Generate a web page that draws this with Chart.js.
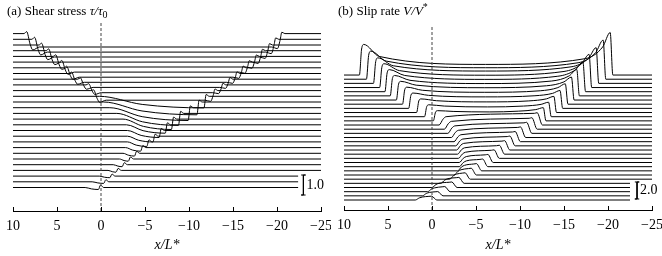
<!DOCTYPE html>
<html>
<head>
<meta charset="utf-8">
<script src="https://cdn.jsdelivr.net/npm/chart.js@4.4.1/dist/chart.umd.min.js"></script>
<style>
  html, body { margin: 0; padding: 0; background: #fff; }
  .wrap { position: relative; width: 662px; height: 256px; }
  .panel { position: absolute; top: 0; width: 331px; height: 256px; }
  #panelA { left: 0; }
  #panelB { left: 331px; }
</style>
</head>
<body>
<div class="wrap">
  <div class="panel" id="panelA"><canvas id="stressChart"></canvas></div>
  <div class="panel" id="panelB"><canvas id="slipChart"></canvas></div>
</div>
<script>
// Waterfall plots of a nucleating rupture: one profile per snapshot, bottom (early) to top (late)

const serif = "'Liberation Serif', 'DejaVu Serif', serif";
const xTicks = [10, 5, 0, -5, -10, -15, -20, -25];

// (a) shear stress tau/tau0, 28 snapshots
const tauLeftFront  = [1.8, 1.0, 0.2, -0.8, -1.4, -2.1, -2.5, -2.8, -3.0, -3.0, -3.0, -2.9, -2.5, -1.8,
                       -1.0, -0.3, 0.2, 0.7, 1.25, 2.2, 3.2, 3.75, 4.3, 5.0, 5.8, 6.6, 7.4, 8.3];
const tauRightFront = [0.0, -0.6, -1.3, -2.0, -2.7, -3.4, -4.1, -4.8, -5.5, -6.2, -6.9, -7.6, -8.3, -9.1,
                       -10.2, -11.2, -12.0, -13.0, -13.9, -14.7, -15.5, -16.2, -16.9, -17.7, -18.4, -19.2, -19.9, -20.6];
const tauDrop       = [0.1, 0.08, 0.08, 0.09, 0.1, 0.11, 0.14, 0.18, 0.23, 0.29, 0.35, 0.42, 0.52, 0.6,
                       0.64, 0.64, 0.58, 0.48, 0.39, 0.41, 0.44, 0.47, 0.5, 0.53, 0.57, 0.6, 0.64, 0.67];
const tauPeakLeft   = [0, 0, 0, 0, 0, 0, 0, 0, 0, 0, 0, 0, 0, 0,
                       0, 0, 0, 0.04, 0.06, 0.07, 0.07, 0.08, 0.08, 0.08, 0.09, 0.09, 0.1, 0.1];
const tauPeakRight  = [0.12, 0.1, 0.1, 0.1, 0.1, 0.1, 0.1, 0.1, 0.1, 0.1, 0.1, 0.1, 0.1, 0.1,
                       0.09, 0.09, 0.09, 0.08, 0.08, 0.08, 0.08, 0.08, 0.07, 0.07, 0.07, 0.07, 0.07, 0.07];
const TAU_STEP = 0.285;   // offset between snapshots
const TAU_BAR = 1.0;

// (b) slip rate V/V*, 31 snapshots
const slipLeftFront  = [1.7, 0.9, 0.3, -0.2, -1.2, -2.2, -2.7, -3.1, -3.3, -3.3, -3.2, -3.1, -3.0, -2.9, -2.7, -2.4,
                        -2.0, -1.6, -1.0, -0.2, 0.8, 1.7, 2.6, 3.3, 4.0, 4.7, 5.3, 5.9, 6.6, 7.4, 8.2];
const slipRightFront = [-0.1, -0.8, -1.6, -2.4, -3.2, -3.9, -4.6, -5.2, -5.9, -6.5, -7.2, -7.8, -8.4, -9.0, -9.6, -10.2,
                        -10.9, -11.5, -12.1, -12.8, -13.4, -14.0, -14.7, -15.3, -16.0, -16.6, -17.3, -18.0, -18.8, -19.6, -20.4];
const slipInner      = [0.35, 0.4, 0.45, 0.5, 0.55, 0.6, 0.62, 0.65, 0.68, 0.7, 0.72, 0.75, 0.78, 0.8, 0.82, 0.85,
                        0.88, 0.92, 0.98, 1.05, 1.15, 1.25, 1.35, 1.4, 1.45, 1.45, 1.45, 1.45, 1.45, 1.35, 1.25];
const slipPeakLeft   = [0, 0, 0, 0, 0, 0, 0, 0, 0, 0, 0, 0, 0, 0, 0, 0,
                        0, 0, 0, 1.2, 1.4, 1.6, 1.8, 2.0, 2.2, 2.4, 2.6, 2.8, 3.0, 3.3, 3.6];
const slipPeakRight  = [0.45, 0.5, 0.6, 0.65, 0.7, 0.75, 0.8, 0.85, 0.9, 0.95, 1.0, 1.05, 1.1, 1.15, 1.2, 1.25,
                        1.3, 1.35, 1.45, 1.55, 1.7, 1.9, 2.1, 2.4, 2.7, 3.1, 3.5, 3.9, 4.2, 4.6, 5.0];
const SLIP_STEP = 0.49;
const SLIP_BAR = 2.0;

function fmt(v) {
    return v < 0 ? '\u2212' + Math.abs(v) : String(v);
}

function tauProfile(k) {
    const L = tauLeftFront[k], R = tauRightFront[k], d = tauDrop[k];
    const pl = tauPeakLeft[k], pr = tauPeakRight[k];
    const end = k < 3 ? -22.4 : -25;
    let pts;
    if (pl > 0) {
        // hook at the left front (small overshoot below the inner level), cusp at the right front
        pts = [[10, 0], [L + 0.45, 0], [L + 0.15, pl], [L - 0.25, -0.8 * d], [L - 0.55, -1.22 * d], [L - 1.3, -d],
               [R + 1.2, -d], [R + 0.55, -1.12 * d], [R + 0.25, -0.5 * d], [R + 0.05, pr], [R - 0.3, 0], [end, 0]];
    } else {
        const w = L - R;
        pts = [[10, 0], [L, 0], [L - 0.4 * w, -0.7 * d], [R + 0.3, -d], [R + 0.05, pr], [R - 0.3, 0], [end, 0]];
    }
    return pts.map(([x, y]) => ({ x, y: k * TAU_STEP + y }));
}

function slipProfile(k) {
    const L = slipLeftFront[k], R = slipRightFront[k], v = slipInner[k];
    const pl = slipPeakLeft[k], pr = slipPeakRight[k];
    const end = k < 5 ? -22.5 : -25;
    let pts;
    if (pl > 0) {
        const mid = (L + R) / 2;
        pts = [[10, 0], [L + 0.05, 0], [L - 0.2, 0.85 * pl], [L - 0.45, pl], [L - 2.2, v + 0.4 * (pl - v)],
               [mid, v], [R + 3, v + 0.18 * (pr - v)], [R + 1, v + 0.55 * (pr - v)], [R + 0.15, pr], [R - 0.15, 0], [end, 0]];
    } else {
        pts = [[10, 0], [L + 0.2, 0], [L - 0.25, 0.7 * v], [L - 0.6, v],
               [R + 0.45, 0.95 * pr], [R + 0.15, pr], [R - 0.45, 0], [end, 0]];
    }
    return pts.map(([x, y]) => ({ x, y: k * SLIP_STEP + y }));
}

function profileSet(data) {
    return { data, borderColor: '#000', borderWidth: 1, cubicInterpolationMode: 'monotone', pointRadius: 0 };
}

function scaleBar(x, y0, len) {
    return {
        data: [{ x: x + 0.25, y: y0 + len }, { x: x - 0.25, y: y0 + len }, { x: x, y: y0 + len },
               { x: x, y: y0 }, { x: x + 0.25, y: y0 }, { x: x - 0.25, y: y0 }],
        borderColor: '#000', borderWidth: 1, tension: 0, pointRadius: 0
    };
}

function zeroLine(y0, y1) {
    return {
        data: [{ x: 0, y: y0 }, { x: 0, y: y1 }],
        borderColor: '#444', borderWidth: 1, borderDash: [3, 2], tension: 0, pointRadius: 0
    };
}

function drawRuns(ctx, runs, x, y) {
    ctx.fillStyle = '#000';
    ctx.textBaseline = 'alphabetic';
    for (const r of runs) {
        const size = r.sub || r.sup ? 10 : 13;
        ctx.font = `${r.italic ? 'italic ' : ''}${size}px ${serif}`;
        const dy = r.sub ? 3 : r.sup ? -5 : 0;
        ctx.fillText(r.t, x, y + dy);
        x += ctx.measureText(r.t).width;
    }
}

const decorPlugin = {
    id: 'decor',
    afterDraw(chart, args, opts) {
        const { ctx, chartArea, scales: { x, y } } = chart;
        ctx.save();
        ctx.strokeStyle = '#000';
        ctx.lineWidth = 1;
        for (const v of xTicks) {
            const px = Math.round(x.getPixelForValue(v)) + 0.5;
            ctx.beginPath();
            ctx.moveTo(px, chartArea.bottom);
            ctx.lineTo(px, chartArea.bottom - 4);
            ctx.stroke();
        }
        drawRuns(ctx, opts.heading, 7, 15);
        ctx.font = `14px ${serif}`;
        ctx.textBaseline = 'middle';
        ctx.fillText(opts.barLabel, x.getPixelForValue(opts.barX) + 3, y.getPixelForValue(opts.barMid));
        ctx.restore();
    }
};

function panelOptions(ymin, ymax, axisHeight, decor) {
    return {
        responsive: true, maintainAspectRatio: false, animation: false, devicePixelRatio: 1,
        layout: { padding: { left: 13, right: 10, top: 18, bottom: 0 } },
        plugins: { legend: { display: false }, tooltip: { enabled: false }, decor },
        scales: {
            x: {
                type: 'linear', min: -25, max: 10, reverse: true,
                grid: { display: false, drawTicks: false },
                border: { display: true, color: '#000', width: 1 },
                ticks: { stepSize: 5, padding: 7, color: '#000', font: { family: serif, size: 14 }, callback: v => fmt(v) },
                title: { display: true, text: 'x/L*', color: '#000', font: { family: serif, size: 14, style: 'italic' },
                         padding: { top: 0, bottom: 2 } },
                afterFit(scale) {
                    scale.height = axisHeight;
                    scale.paddingLeft = 0;
                    scale.paddingRight = 0;
                }
            },
            y: { display: false, min: ymin, max: ymax }
        }
    };
}

// panel (a)
const tauSets = tauLeftFront.map((_, k) => profileSet(tauProfile(k)));
new Chart(document.getElementById('stressChart'), {
    type: 'line',
    data: { datasets: [zeroLine(-1.175, 8.225), ...tauSets, scaleBar(-23.0, -0.375, TAU_BAR)] },
    options: panelOptions(-1.175, 8.475, 45, {
        heading: [{ t: '(a) Shear stress ' }, { t: '\u03c4/\u03c4', italic: true }, { t: '0', sub: true }],
        barLabel: TAU_BAR.toFixed(1), barX: -23.0, barMid: -0.375 + TAU_BAR / 2
    }),
    plugins: [decorPlugin]
});

// panel (b)
const slipSets = slipLeftFront.map((_, k) => profileSet(slipProfile(k)));
new Chart(document.getElementById('slipChart'), {
    type: 'line',
    data: { datasets: [zeroLine(-1.176, 20.35), ...slipSets, scaleBar(-23.3, 0.12, SLIP_BAR)] },
    options: panelOptions(-1.176, 21.41, 46, {
        heading: [{ t: '(b) Slip rate ' }, { t: 'V/V', italic: true }, { t: '*', sup: true }],
        barLabel: SLIP_BAR.toFixed(1), barX: -23.3, barMid: 0.12 + SLIP_BAR / 2
    }),
    plugins: [decorPlugin]
});
</script>
</body>
</html>
